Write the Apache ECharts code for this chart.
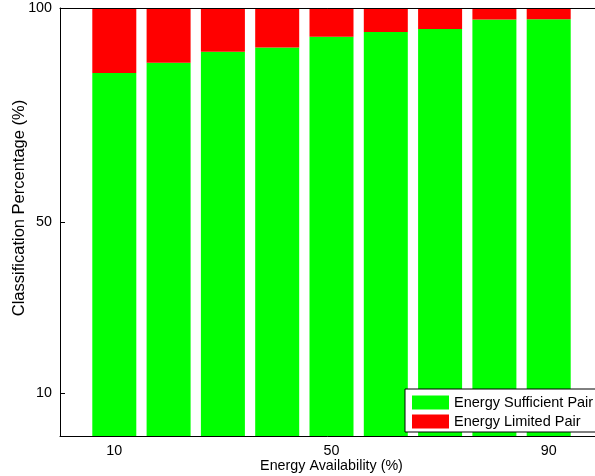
<!DOCTYPE html>
<html>
<head>
<meta charset="utf-8">
<script src="https://cdn.jsdelivr.net/npm/echarts@6/dist/echarts.min.js"></script>
<style>html,body{margin:0;padding:0;background:#fff;}#c{width:595px;height:476px;}</style>
</head>
<body>
<div id="c"></div>
<script>
const availability = [10, 20, 30, 40, 50, 60, 70, 80, 90];
const sufficient = [84.8, 87.2, 89.8, 90.8, 93.3, 94.4, 95.1, 97.3, 97.4];
const limited = sufficient.map(v => +(100 - v).toFixed(1));
const yTicks = [10, 50, 100];
const xTicks = [10, 50, 90];

const font = "'Liberation Sans', Arial, Helvetica, sans-serif";
const fs = 14.3;
const chart = echarts.init(document.getElementById('c'));
chart.setOption({
  animation: false,
  textStyle: { fontFamily: font },
  grid: { left: 60, right: -8, top: 8, bottom: 40, containLabel: false, outerBoundsMode: 'none' },
  legend: {
    orient: 'vertical', left: 405, top: 389,
    itemWidth: 37, itemHeight: 14, itemGap: 4,
    padding: [6, 10, 3, 7],
    icon: 'rect',
    backgroundColor: '#fff', borderColor: '#000', borderWidth: 1, borderRadius: 0,
    textStyle: { fontFamily: font, fontSize: 14.5, color: '#000' },
    data: ['Energy Sufficient Pair', 'Energy Limited Pair'],
    selectedMode: false, z: 10
  },
  xAxis: [{
    type: 'value', min: 0, max: 100, z: 5,
    name: 'Energy Availability (%)', nameLocation: 'middle', nameGap: 23, nameMoveOverlap: false,
    nameTextStyle: { fontSize: fs, color: '#000', fontFamily: font },
    axisLine: { show: true, lineStyle: { color: '#000', width: 1 } },
    axisTick: { show: false },
    splitLine: { show: false },
    axisLabel: { customValues: xTicks, color: '#000', fontSize: fs, margin: 8, fontFamily: font }
  }, {
    type: 'value', min: 0, max: 100, position: 'top', z: 5,
    axisLine: { show: true, onZero: false, lineStyle: { color: '#000', width: 1 } },
    axisTick: { show: false }, axisLabel: { show: false }, splitLine: { show: false }
  }],
  yAxis: {
    type: 'value', min: 0, max: 100, z: 5,
    name: 'Classification Percentage (%)', nameLocation: 'middle', nameGap: 32, nameMoveOverlap: false,
    nameTextStyle: { fontSize: 16.5, color: '#000', fontFamily: font, padding: [0, 0, 0, 28] },
    axisLine: { show: true, lineStyle: { color: '#000', width: 1 } },
    axisTick: { show: true, inside: true, length: 5, customValues: yTicks, lineStyle: { color: '#000' } },
    axisLabel: { customValues: yTicks, color: '#000', fontSize: fs, margin: 8, fontFamily: font },
    splitLine: { show: false }
  },
  series: [{
    name: 'Energy Sufficient Pair', type: 'bar', stack: 'total', barWidth: 44,
    itemStyle: { color: '#00ff00' },
    encode: { x: 1, y: 0 },
    data: availability.map((x, i) => [sufficient[i], x])
  }, {
    name: 'Energy Limited Pair', type: 'bar', stack: 'total', barWidth: 44,
    itemStyle: { color: '#ff0000' },
    encode: { x: 1, y: 0 },
    data: availability.map((x, i) => [limited[i], x])
  }]
});
</script>
</body>
</html>
